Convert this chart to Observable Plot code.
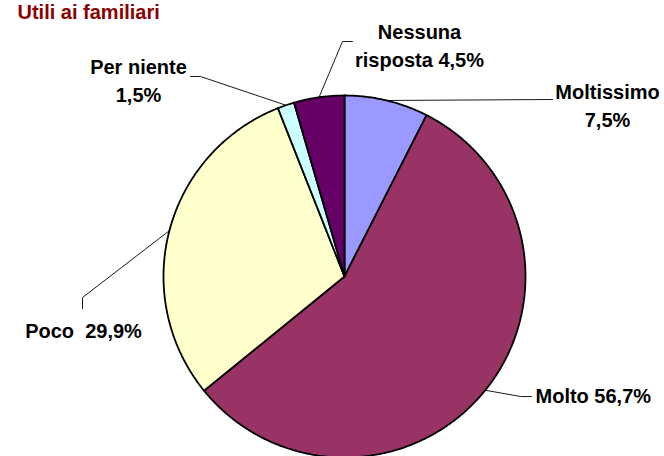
<!DOCTYPE html>
<html><head><meta charset="utf-8">
<script src="https://cdn.jsdelivr.net/npm/d3@7"></script>
<script src="https://cdn.jsdelivr.net/npm/@observablehq/plot@0.6"></script>
<style>body{margin:0;background:#fff;} svg{display:block;}</style>
</head><body><div id="chart"></div>
<script>
const title = "Utili ai familiari";
const categories = ["Moltissimo", "Molto", "Poco", "Per niente", "Nessuna risposta"];
const values = [7.5, 56.7, 29.9, 1.5, 4.5];
const labels = ["Moltissimo\n7,5%", "Molto 56,7%", "Poco \u00a029,9%", "Per niente\n1,5%", "Nessuna\nrisposta 4,5%"];
const colors = ["#9999ff", "#993366", "#ffffcc", "#ccffff", "#660066"];

// layout (pixels)
const W = 664, H = 456, cx = 344, cy = 276, R = 181;
const labelPos = [
  {x: 607, y: 79, anchor: "middle", leader: [[552, 99]]},
  {x: 535, y: 388, anchor: "start", leader: [[520, 396], [531, 396]]},
  {x: 83, y: 318, anchor: "middle", leader: [[82, 297], [82, 308]]},
  {x: 138, y: 54, anchor: "middle", leader: [[200, 76], [190, 76]]},
  {x: 419, y: 19, anchor: "middle", leader: [[342, 41], [352, 41]]}
];

const arcs = d3.pie().sort(null).value(d => d)(values);
const pt = (a, r) => [cx + r * Math.sin(a), cy - r * Math.cos(a)];

const slicePts = [];
arcs.forEach((a, i) => {
  const n = Math.max(2, Math.ceil((a.endAngle - a.startAngle) / (Math.PI / 360)));
  slicePts.push({cat: categories[i], x: cx, y: cy});
  for (let k = 0; k <= n; k++) {
    const [x, y] = pt(a.startAngle + (a.endAngle - a.startAngle) * k / n, R);
    slicePts.push({cat: categories[i], x, y});
  }
  slicePts.push({cat: categories[i], x: cx, y: cy});
});

const leaderPts = [];
arcs.forEach((a, i) => {
  const [x0, y0] = pt((a.startAngle + a.endAngle) / 2, R);
  leaderPts.push({cat: categories[i], x: x0, y: y0});
  labelPos[i].leader.forEach(([x, y]) => leaderPts.push({cat: categories[i], x, y}));
});

const labelData = categories.map((c, i) => ({cat: c, text: labels[i], ...labelPos[i]}));

const font = "Liberation Sans, Arial, Helvetica, sans-serif";
const chart = Plot.plot({
  width: W, height: H,
  margin: 0,
  x: {domain: [0, W], range: [0, W], axis: null},
  y: {domain: [0, H], range: [0, H], axis: null},
  color: {domain: categories, range: colors},
  style: {fontFamily: font, background: "#fff"},
  marks: [
    Plot.line(slicePts, {x: "x", y: "y", z: "cat", fill: "cat", stroke: "#000", strokeWidth: 1.8, strokeLinejoin: "round", curve: "linear"}),
    Plot.line(leaderPts, {x: "x", y: "y", z: "cat", stroke: "#000", strokeWidth: 0.9}),
    Plot.text(labelData.filter(d => d.anchor === "middle"), {x: "x", y: "y", text: "text", textAnchor: "middle", lineAnchor: "top", lineHeight: 1.38, fontSize: 20, fontWeight: "bold", fill: "#000"}),
    Plot.text(labelData.filter(d => d.anchor === "start"), {x: "x", y: "y", text: "text", textAnchor: "start", lineAnchor: "top", fontSize: 20, fontWeight: "bold", fill: "#000"}),
    Plot.text([title], {x: 17, y: 4, text: d => d, textAnchor: "start", lineAnchor: "top", fontSize: 20, fontWeight: "bold", fill: "#8b0000"})
  ]
});
document.getElementById("chart").appendChild(chart);
</script>
</body></html>
